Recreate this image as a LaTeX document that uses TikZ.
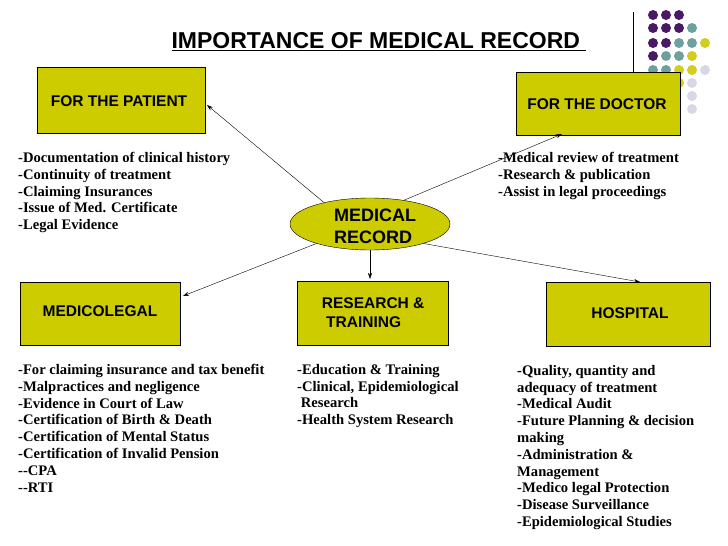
\documentclass[tikz,border=0pt]{standalone}
\usepackage{fontspec}
\setmainfont{Liberation Serif}
\newfontfamily\hv{Liberation Sans}
\usetikzlibrary{shapes.geometric,arrows.meta}
\definecolor{olive}{RGB}{204,204,0}
\definecolor{pur}{RGB}{75,25,100}
\definecolor{tl}{RGB}{110,160,160}
\definecolor{lav}{RGB}{215,215,230}
\definecolor{dy}{RGB}{210,205,30}
\begin{document}
\begin{tikzpicture}[x=1pt,y=-1pt,
 box/.style={draw=black,fill=olive,line width=0.5pt},
 lbl/.style={font=\hv\bfseries\fontsize{15.5}{19}\selectfont,align=left},
 lst/.style={font=\bfseries\fontsize{14.6}{16.8}\selectfont,align=left,anchor=north west,inner sep=0},
 conn/.style={-{Stealth[length=6pt,width=4pt]},line width=0.4pt}]
\useasboundingbox (0,0) rectangle (728,546);
\fill[white] (0,0) rectangle (728,546);
% decoration
\draw[line width=0.8pt] (633,12) -- (633,86);
\foreach \r/\list in {15/{1/pur,2/pur,3/pur},28/{1/pur,2/pur,3/pur,4/tl},43/{1/pur,2/pur,3/tl,4/tl,5/dy},56/{1/pur,2/tl,3/tl,4/dy},70/{1/tl,2/tl,3/dy,4/dy,5/lav},83/{3/dy,4/lav},96/{4/lav},109/{4/lav}}
  \foreach \c/\col in \list \fill[\col] (640+13*\c,\r) circle (5);
\node[font=\hv\bfseries\fontsize{23}{26}\selectfont] (title) at (379,42) {\underline{IMPORTANCE OF MEDICAL RECORD\ }};
\draw[box] (37,67) rectangle (205,133);
\node[lbl] (pat) at (119,101) {FOR THE PATIENT};
\draw[box] (516,72) rectangle (680,135);
\node[lbl] (doc) at (597,104) {FOR THE DOCTOR};
\draw[box] (20,282) rectangle (180,345);
\node[lbl] (med) at (100,311) {MEDICOLEGAL};
\draw[box] (297,281) rectangle (448,345);
\node[lbl,align=left] (res) at (371,313) {\ RESEARCH \&\\ \ \ TRAINING};
\draw[box] (546,282) rectangle (710,346);
\node[lbl] (hos) at (630,313) {HOSPITAL};
\node[ellipse,draw=black,fill=olive,minimum width=160,minimum height=52,inner sep=0] (mr) at (370,224) {};
\node[font=\hv\bfseries\fontsize{18}{22}\selectfont,align=left] (mrt) at (375,226) {MEDICAL\\ RECORD};
\coordinate (pt) at (207,105);
\coordinate (dt) at (562,134);
\coordinate (mt) at (183,296);
\coordinate (rt) at (370,279);
\coordinate (ht) at (640,282);
\draw[conn] (mr.155) -- (pt);
\draw[conn] (mr.35) -- (dt);
\draw[conn] (mr.200) -- (mt);
\draw[conn] (mr.south) -- (rt);
\draw[conn] (mr.-20) -- (ht);
\node[lst] (l1) at (18,152) {-Documentation of clinical history\\-Continuity of treatment\\-Claiming Insurances\\-Issue of Med. Certificate\\-Legal Evidence};
\node[lst] (l2) at (498,152) {-Medical review of treatment\\-Research \& publication\\-Assist in legal proceedings};
\node[lst] (l3) at (18,364) {-For claiming insurance and tax benefit\\-Malpractices and negligence\\-Evidence in Court of Law\\-Certification of Birth \& Death\\-Certification of Mental Status\\-Certification of Invalid Pension\\-{}-CPA\\-{}-RTI};
\node[lst] (l4) at (297,364) {-Education \& Training\\-Clinical, Epidemiological\\\ Research\\-Health System Research};
\node[lst] (l5) at (517,365) {-Quality, quantity and\\adequacy of treatment\\-Medical Audit\\-Future Planning \& decision\\making\\-Administration \&\\Management\\-Medico legal Protection\\-Disease Surveillance\\-Epidemiological Studies};
\end{tikzpicture}
\end{document}
